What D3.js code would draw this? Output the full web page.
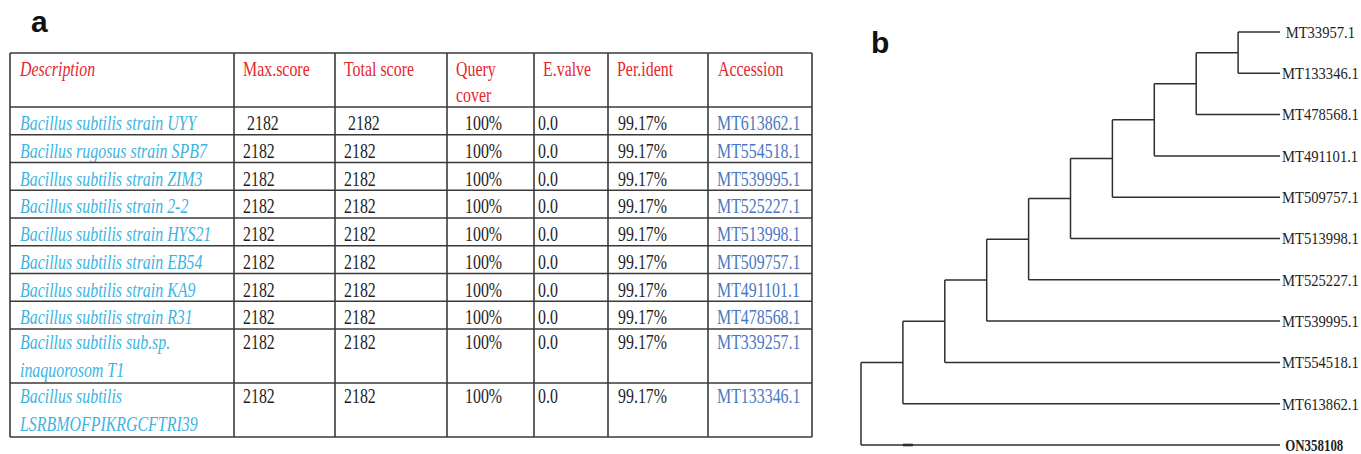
<!DOCTYPE html>
<html>
<head>
<meta charset="utf-8">
<script src="https://cdn.jsdelivr.net/npm/d3@7/dist/d3.min.js"></script>
<style>
  html, body { margin: 0; padding: 0; background: #fff; }
  svg { display: block; }
  text { white-space: pre; }
</style>
</head>
<body>
<svg id="fig" width="1361" height="454"></svg>
<script>
// ---- Panel a: BLAST hit table ----
const headers = ["Description", "Max.score", "Total score", "Query\ncover", "E.valve", "Per.ident", "Accession"];
const descriptions = [
  "Bacillus subtilis strain UYY",
  "Bacillus rugosus strain SPB7",
  "Bacillus subtilis strain ZIM3",
  "Bacillus subtilis strain 2-2",
  "Bacillus subtilis strain HYS21",
  "Bacillus subtilis strain EB54",
  "Bacillus subtilis strain KA9",
  "Bacillus subtilis strain R31",
  "Bacillus subtilis sub.sp.\ninaquorosom T1",
  "Bacillus subtilis\nLSRBMOFPIKRGCFTRI39"
];
const maxScores   = [" 2182", "2182", "2182", "2182", "2182", "2182", "2182", "2182", "2182", "2182"];
const totalScores = [" 2182", "2182", "2182", "2182", "2182", "2182", "2182", "2182", "2182", "2182"];
const queryCover  = ["100%", "100%", "100%", "100%", "100%", "100%", "100%", "100%", "100%", "100%"];
const eValues     = ["0.0", "0.0", "0.0", "0.0", "0.0", "0.0", "0.0", "0.0", "0.0", "0.0"];
const perIdent    = ["99.17%", "99.17%", "99.17%", "99.17%", "99.17%", "99.17%", "99.17%", "99.17%", "99.17%", "99.17%"];
const accessions  = ["MT613862.1", "MT554518.1", "MT539995.1", "MT525227.1", "MT513998.1",
                     "MT509757.1", "MT491101.1", "MT478568.1", "MT339257.1", "MT133346.1"];

// ---- Panel b: neighbour-joining style tree (nested clades) ----
const treeData = {
  children: [
    { children: [
      { children: [
        { children: [
          { children: [
            { children: [
              { children: [
                { children: [
                  { children: [
                    { children: [
                      { name: " MT33957.1" },
                      { name: "MT133346.1" }
                    ]},
                    { name: "MT478568.1" }
                  ]},
                  { name: "MT491101.1" }
                ]},
                { name: "MT509757.1" }
              ]},
              { name: "MT513998.1" }
            ]},
            { name: "MT525227.1" }
          ]},
          { name: "MT539995.1" }
        ]},
        { name: "MT554518.1" }
      ]},
      { name: "MT613862.1" }
    ]},
    { name: " ON358108", outgroup: true }
  ]
};

const svg = d3.select("#fig");
svg.append("rect").attr("width", 1361).attr("height", 454).attr("fill", "#fff");

// panel letters
svg.append("text").attr("x", 31).attr("y", 32).text("a")
  .attr("font-family", "Liberation Sans, Arial, sans-serif").attr("font-weight", "bold")
  .attr("font-size", 30).attr("fill", "#111");
svg.append("text").attr("x", 871).attr("y", 53).text("b")
  .attr("font-family", "Liberation Sans, Arial, sans-serif").attr("font-weight", "bold")
  .attr("font-size", 30).attr("fill", "#111");

// ---------- table ----------
const tbl = svg.append("g");
const tableLeft = 10, tableTop = 53;
const colWidths = [224, 101, 112, 87, 74, 100, 104];
const colX = [tableLeft];
colWidths.forEach(w => colX.push(colX[colX.length - 1] + w));

const columns = [descriptions, maxScores, totalScores, queryCover, eValues, perIdent, accessions];
const bodyRows = descriptions.map((_, i) => columns.map(c => c[i]));
const allRows = [headers].concat(bodyRows);
const lineCount = r => d3.max(r, s => s.split("\n").length);
const rowH = r => lineCount(r) === 1 ? 27.75 : 54;
const rowY = [tableTop];
allRows.forEach(r => rowY.push(rowY[rowY.length - 1] + rowH(r)));

const fontSize = 21.5, squeeze = 0.74;
const headPad = [10, 9, 9, 9, 9, 9, 10];
const bodyPad = [10, 9, 9, 18, 4, 10, 9];
const headColor = "#e5262d";
const descColor = "#3cb4e2";
const accColor = "#4b77c2";
const numColor = "#1e1e1e";

allRows.forEach((row, ri) => {
  row.forEach((cell, ci) => {
    const lines = cell.split("\n");
    const isHead = ri === 0;
    const x = colX[ci] + (isHead ? headPad[ci] : bodyPad[ci]);
    let fill = numColor, italic = false;
    if (isHead) { fill = headColor; italic = ci === 0; }
    else if (ci === 0) { fill = descColor; italic = true; }
    else if (ci === 6) { fill = accColor; }
    lines.forEach((ln, li) => {
      const y = rowY[ri] + (isHead ? 23 : (lineCount(row) === 1 ? 23 : 20)) + li * (isHead ? 26 : 28);
      tbl.append("text")
        .attr("transform", `translate(${x},${y}) scale(${squeeze},1)`)
        .attr("font-family", "Liberation Serif, Times New Roman, serif")
        .attr("font-size", fontSize)
        .attr("font-style", italic ? "italic" : "normal")
        .attr("fill", fill)
        .text(ln);
    });
  });
});

const gridColor = "#3a3a3a";
rowY.forEach(y => tbl.append("line")
  .attr("x1", colX[0]).attr("x2", colX[colX.length - 1]).attr("y1", y).attr("y2", y)
  .attr("stroke", gridColor).attr("stroke-width", 1.6));
colX.forEach(x => tbl.append("line")
  .attr("x1", x).attr("x2", x).attr("y1", rowY[0]).attr("y2", rowY[rowY.length - 1])
  .attr("stroke", gridColor).attr("stroke-width", 1.6));

// ---------- tree ----------
const treeLeft = 861, treeTop = 32, tipX = 1280, treeBottom = 445;
const root = d3.hierarchy(treeData);
const nLeaves = root.leaves().length;
const tipStep = (treeBottom - treeTop) / (nLeaves - 1);
// cluster pads half a leaf step at each end, so widen the span by one step
d3.cluster().size([tipStep * nLeaves, tipX - treeLeft]).separation(() => 1)(root);
const px = d => treeLeft + d.y;
const py = d => treeTop - tipStep / 2 + d.x;

const tg = svg.append("g").attr("stroke", "#2e2e2e").attr("stroke-width", 1.5).attr("fill", "none");
root.descendants().forEach(d => {
  if (d.parent) {
    tg.append("line").attr("x1", px(d.parent)).attr("x2", px(d))
      .attr("y1", py(d)).attr("y2", py(d));
  }
  if (d.children) {
    const ys = d.children.map(py);
    tg.append("line").attr("x1", px(d)).attr("x2", px(d))
      .attr("y1", d3.min(ys)).attr("y2", d3.max(ys));
  }
});

// short heavier segment on the outgroup branch
const outNode = root.leaves().find(d => d.data.outgroup);
const firstInner = root.children.find(d => d.children);
tg.append("line").attr("x1", px(firstInner)).attr("x2", px(firstInner) + 10)
  .attr("y1", py(outNode)).attr("y2", py(outNode)).attr("stroke-width", 2.6);

svg.append("g").selectAll("text").data(root.leaves()).join("text")
  .attr("transform", d => `translate(${px(d) + 2},${py(d) + 5.8}) scale(${d.data.outgroup ? 0.76 : 0.86},1)`)
  .attr("font-family", "Liberation Serif, Times New Roman, serif")
  .attr("font-size", 17)
  .attr("font-weight", d => d.data.outgroup ? "bold" : "normal")
  .attr("fill", "#1e1e1e")
  .text(d => d.data.name);
</script>
</body>
</html>
